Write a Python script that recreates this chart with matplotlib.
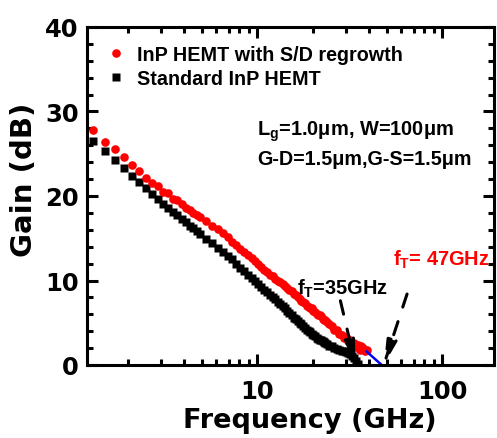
import numpy as np
import matplotlib
matplotlib.use("Agg")
import matplotlib.pyplot as plt
from matplotlib.ticker import LogLocator, MultipleLocator, FuncFormatter, NullFormatter

# frequency sweep points (GHz) and gain (dB)
freq_red = [1.3, 1.5, 1.7, 1.9, 2.1, 2.3, 2.5, 2.7, 2.9, 3.1, 3.3, 3.5, 3.7, 3.9,
            4.1, 4.3, 4.5, 4.7, 4.9,
            5.3, 5.7, 6.1, 6.5, 6.9, 7.3, 7.7, 8.1, 8.5, 8.9,
            9.3, 9.7, 10.1, 10.5, 10.9, 11.3, 11.7, 12.1, 12.5, 12.9,
            13.3, 13.7, 14.1, 14.5, 14.9, 15.3, 15.7, 16.1, 16.5, 16.9,
            17.3, 17.7, 18.1, 18.5, 18.9, 19.3, 19.7, 20.1, 20.5, 20.9,
            21.3, 21.7, 22.1, 22.5, 22.9, 23.3, 23.7,
            24.5, 25.3, 26.1, 26.9, 27.7, 28.5, 29.3, 30.1, 30.9, 31.7,
            32.5, 33.3, 34.1, 34.9, 35.7, 36.5, 37.3, 38.1, 38.9]
gain_red = [27.8, 26.4, 25.6, 24.6, 23.7, 22.9, 22.1, 21.5, 21.2, 20.5, 20.4, 19.7,
            19.5, 19.0, 18.6, 18.4, 18.0, 17.8, 17.5,
            17.0, 16.5, 16.1, 15.6, 15.1, 14.6, 14.2, 13.7, 13.4, 13.0,
            12.7, 12.3, 11.9, 11.6, 11.3, 11.0, 10.7, 10.5, 10.2, 10.0,
            9.8, 9.6, 9.4, 9.1, 8.9, 8.7, 8.4, 8.3, 8.1, 7.8,
            7.6, 7.5, 7.3, 7.0, 6.9, 6.8, 6.7, 6.4, 6.3, 6.0,
            5.9, 5.9, 5.8, 5.5, 5.3, 5.3, 5.1,
            4.8, 4.6, 4.2, 4.1, 3.7, 3.6, 3.2, 3.3, 2.8, 2.9,
            2.4, 2.6, 2.1, 2.4, 1.8, 2.3, 2.0, 1.6, 1.8]

freq_black = [1.3, 1.5, 1.7, 1.9, 2.1, 2.3, 2.5, 2.7, 2.9, 3.1, 3.3, 3.5, 3.7, 3.9,
              4.1, 4.3, 4.5, 4.7, 4.9,
              5.3, 5.7, 6.1, 6.5, 6.9, 7.3, 7.7, 8.1, 8.5, 8.9,
              9.3, 9.7, 10.1, 10.5, 10.9, 11.3, 11.7, 12.1, 12.5, 12.9,
              13.3, 13.7, 14.1, 14.5, 14.9, 15.3, 15.7, 16.1, 16.5, 16.9,
              17.3, 17.7, 18.1, 18.5, 18.9, 19.3, 19.7, 20.1, 20.5, 20.9,
              21.3, 21.7, 22.1, 22.5, 22.9, 23.3, 23.7,
              24.5, 25.3, 26.1, 26.9, 27.7, 28.5, 29.3, 30.1, 30.9, 31.7,
              32.5, 33.3, 34.1, 34.9]
gain_black = [26.5, 25.3, 24.3, 23.3, 22.4, 21.6, 20.9, 20.2, 19.6, 19.1, 18.6, 18.1,
              17.7, 17.3, 16.9, 16.5, 16.2, 15.8, 15.5,
              14.9, 14.4, 13.9, 13.4, 12.9, 12.5, 12.0, 11.5, 11.1, 10.7,
              10.3, 9.9, 9.6, 9.2, 8.9, 8.6, 8.3, 8.1, 7.8, 7.5,
              7.2, 7.0, 6.7, 6.4, 6.1, 5.9, 5.6, 5.4, 5.2, 5.0,
              4.8, 4.6, 4.4, 4.2, 4.0, 3.9, 3.7, 3.5, 3.4, 3.2,
              3.1, 3.0, 2.9, 2.8, 2.7, 2.6, 2.5,
              2.3, 2.2, 2.0, 1.9, 1.8, 1.7, 1.6, 1.5, 1.4, 1.3,
              1.1, 0.8, 0.5, 0.1]

# extrapolation line to 0 dB
ext_freq = [38.9, 47.0]
ext_gain = [1.6, 0.0]

arial = ['Liberation Sans']
plt.rcParams['font.family'] = ['DejaVu Sans']
plt.rcParams['font.weight'] = 'bold'

fig = plt.figure(figsize=(4.97, 4.39), dpi=100)
ax = fig.add_axes([87/497, (439-366)/439, (494-87)/497, (366-28)/439])

ax.plot(freq_black, gain_black, 's', color='black', ms=5.5, mec='none',
        label='Standard InP HEMT')
ax.plot(freq_red, gain_red, 'o', color='red', ms=6.2, mec='none',
        label='InP HEMT with S/D regrowth')
ax.plot(ext_freq, ext_gain, color='blue', lw=1.8)

ax.set_xscale('log')
ax.set_xlim(1.2, 190)
ax.set_ylim(0, 40)
ax.xaxis.set_major_locator(LogLocator(base=10))
ax.xaxis.set_minor_locator(LogLocator(base=10, subs=np.arange(2, 10)))
ax.xaxis.set_major_formatter(FuncFormatter(lambda v, p: "%g" % v))
ax.xaxis.set_minor_formatter(NullFormatter())
ax.yaxis.set_major_locator(MultipleLocator(10))
ax.yaxis.set_minor_locator(MultipleLocator(2))

ax.tick_params(which='both', direction='in', top=True, right=True, width=2.2,
               labelsize=17.5)
ax.tick_params(which='major', length=8)
ax.tick_params(which='minor', length=4.5)
ax.tick_params(axis='x', pad=10)
ax.tick_params(axis='y', pad=6)
for lab in ax.get_xticklabels() + ax.get_yticklabels():
    lab.set_fontweight('bold')
for s in ax.spines.values():
    s.set_linewidth(2.2)

ax.set_xlabel('Frequency (GHz)', fontsize=19.5, fontweight='bold')
ax.xaxis.set_label_coords(0.548, -0.125)
ax.set_ylabel('Gain (dB)', fontsize=21, fontweight='bold')
ax.yaxis.set_label_coords(-0.12, 0.55)

h, l = ax.get_legend_handles_labels()
ax.legend(h[::-1], l[::-1], loc='upper left', bbox_to_anchor=(0.056, 0.948),
          frameon=False, borderpad=0, borderaxespad=0, handlelength=0.6,
          handletextpad=0.8, labelspacing=0.28,
          prop={'family': arial, 'weight': 'bold', 'size': 14.2})

ax.text(10, 27.2, r'L$_\mathregular{g}$=1.0μm, W=100μm', family=arial,
        fontweight='bold', fontsize=14.4, va='baseline')
ax.text(10, 23.8, 'G-D=1.5μm,G-S=1.5μm', family=arial,
        fontweight='bold', fontsize=14.2, va='baseline')

ax.text(16.4, 8.4, r'f$_\mathregular{T}$=35GHz', family=arial,
        fontweight='bold', fontsize=14.4, va='baseline', color='black')
ax.text(54.3, 11.9, r'f$_\mathregular{T}$= 47GHz', family=arial,
        fontweight='bold', fontsize=14.4, va='baseline', color='red')

arrow = dict(arrowstyle='-|>,head_length=1.4,head_width=0.3', lw=2.2,
             ls=(0, (4.5, 5)), color='black', shrinkA=0, shrinkB=0,
             mutation_scale=10)
ax.annotate('', xy=(33.9, 0), xytext=(28.1, 7.6), arrowprops=arrow)
ax.annotate('', xy=(48.2, 0), xytext=(64.4, 8.4), arrowprops=arrow)

fig.savefig('out.png', dpi=100)
